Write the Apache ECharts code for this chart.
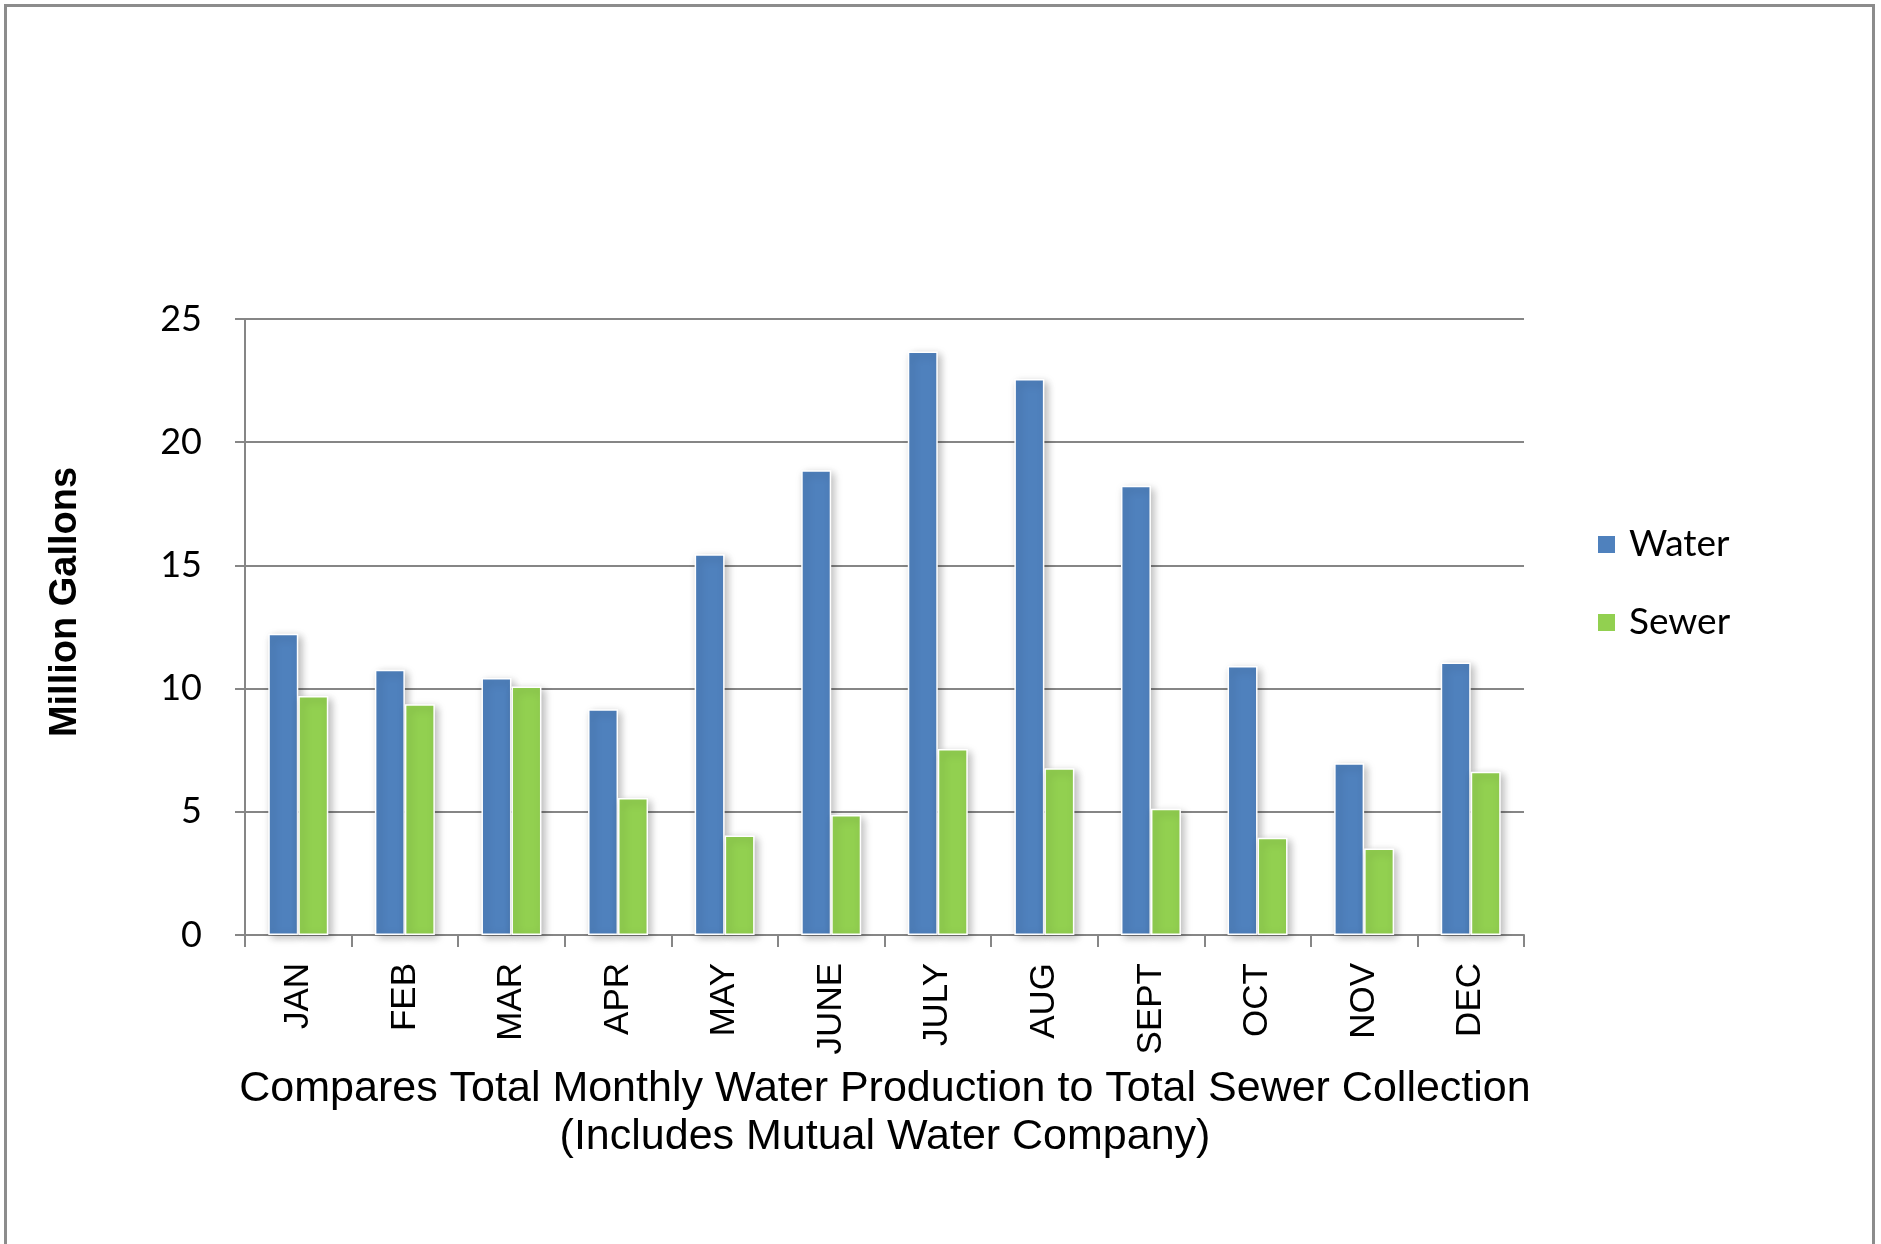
<!DOCTYPE html>
<html>
<head>
<meta charset="utf-8">
<script src="https://cdn.jsdelivr.net/npm/echarts@6/dist/echarts.min.js"></script>
<style>
  html, body { margin: 0; padding: 0; background: #fff; }
  #frame { position: absolute; left: 4px; top: 4px; width: 1871px; height: 1300px;
           border: 3px solid #8c8c8c; box-sizing: border-box; }
  #chart { position: absolute; left: 0; top: 0; width: 1881px; height: 1244px; }
</style>
</head>
<body>
<div id="frame"></div>
<div id="chart"></div>
<script>
// Monthly totals, million gallons
const months = ['JAN', 'FEB', 'MAR', 'APR', 'MAY', 'JUNE', 'JULY', 'AUG', 'SEPT', 'OCT', 'NOV', 'DEC'];
const water = [12.23, 10.77, 10.43, 9.16, 15.45, 18.86, 23.68, 22.56, 18.23, 10.92, 6.97, 11.06];
const sewer = [9.70, 9.36, 10.09, 5.56, 4.04, 4.87, 7.55, 6.77, 5.12, 3.95, 3.51, 6.63];
const yTicks = [0, 5, 10, 15, 20, 25];

const chart = echarts.init(document.getElementById('chart'), null, { renderer: 'canvas' });

const barShadow = {
  borderColor: '#ffffff',
  borderWidth: 1.5,
  shadowColor: 'rgba(0,0,0,0.28)',
  shadowBlur: 8,
  shadowOffsetX: 3,
  shadowOffsetY: 3
};

chart.setOption({
  animation: false,
  backgroundColor: 'transparent',
  grid: { left: 245, right: 357, top: 319, bottom: 309, containLabel: false },
  legend: {
    orient: 'vertical',
    left: 1591,
    top: 521,
    itemWidth: 19,
    itemHeight: 19,
    itemGap: 41,
    icon: 'rect',
    textStyle: {
      fontFamily: 'Lato', fontSize: 37, color: '#000',
      padding: [0, 0, 0, 8]
    },
    data: ['Water', 'Sewer']
  },
  xAxis: {
    type: 'category',
    data: months,
    axisLine: { lineStyle: { color: '#868686', width: 2 } },
    axisTick: { show: true, length: 12, lineStyle: { color: '#868686', width: 2 } },
    axisLabel: {
      rotate: 90, margin: 28, interval: 0,
      fontFamily: 'Liberation Sans', fontSize: 35, color: '#000'
    }
  },
  yAxis: {
    type: 'value',
    min: yTicks[0],
    max: yTicks[yTicks.length - 1],
    interval: yTicks[1] - yTicks[0],
    axisLine: { show: true, lineStyle: { color: '#868686', width: 2 } },
    axisTick: { show: true, length: 10, lineStyle: { color: '#868686', width: 2 } },
    axisLabel: { margin: 43, fontFamily: 'Lato', fontSize: 36, color: '#000' },
    splitLine: { lineStyle: { color: '#868686', width: 2 } }
  },
  series: [
    {
      name: 'Water', type: 'bar', data: water,
      barWidth: 30, barGap: '0%',
      itemStyle: Object.assign({ color: '#4F81BD' }, barShadow)
    },
    {
      name: 'Sewer', type: 'bar', data: sewer,
      barWidth: 30, barGap: '0%',
      itemStyle: Object.assign({ color: '#92D050' }, barShadow)
    }
  ],
  graphic: [
    {
      type: 'text', x: 66, y: 602, rotation: Math.PI / 2,
      style: {
        text: 'Million Gallons', fontFamily: 'Liberation Sans', fontWeight: 'bold',
        fontSize: 38, fill: '#000', textAlign: 'center', textVerticalAlign: 'middle'
      }
    },
    {
      type: 'text', x: 885, y: 1113,
      style: {
        text: 'Compares Total Monthly Water Production to Total Sewer Collection\n(Includes Mutual Water Company)',
        fontFamily: 'Liberation Sans', fontSize: 43, lineHeight: 48, fill: '#000',
        textAlign: 'center', textVerticalAlign: 'middle'
      }
    }
  ]
});
</script>
</body>
</html>
